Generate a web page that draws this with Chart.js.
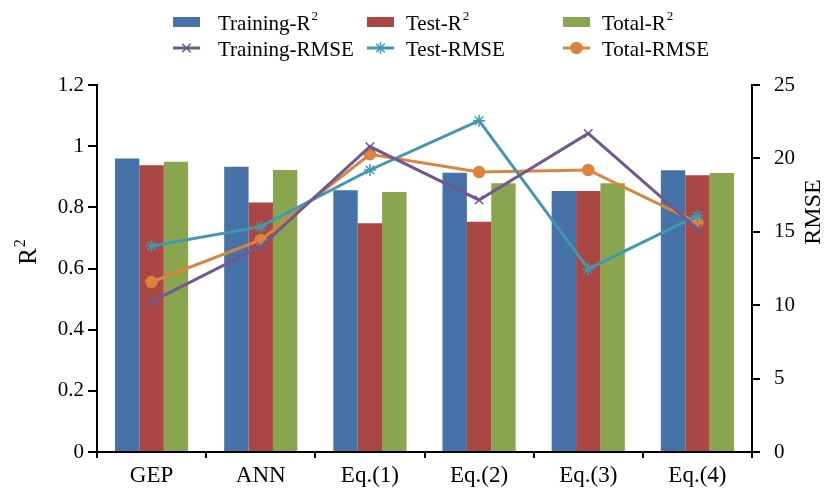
<!DOCTYPE html>
<html>
<head>
<meta charset="utf-8">
<script src="https://cdn.jsdelivr.net/npm/chart.js@4/dist/chart.umd.min.js"></script>
<style>
  html, body { margin: 0; padding: 0; background: #fff; }
  #wrap { width: 832px; height: 492px; }
</style>
</head>
<body>
<div id="wrap"><canvas id="c" width="832" height="492"></canvas></div>
<script>
// Model comparison: R² (bars, left axis) and RMSE (lines, right axis)
const categories = ['GEP', 'ANN', 'Eq.(1)', 'Eq.(2)', 'Eq.(3)', 'Eq.(4)'];

const trainingR2 = [0.960, 0.933, 0.856, 0.913, 0.853, 0.921];
const testR2     = [0.938, 0.816, 0.748, 0.753, 0.853, 0.905];
const totalR2    = [0.949, 0.922, 0.850, 0.879, 0.879, 0.912];

const trainingRMSE = [10.24, 13.99, 20.80, 17.17, 21.70, 15.20];
const testRMSE     = [14.03, 15.35, 19.21, 22.57, 12.47, 16.10];
const totalRMSE    = [11.58, 14.44, 20.28, 19.07, 19.21, 15.62];

const r2Ticks = [0, 0.2, 0.4, 0.6, 0.8, 1, 1.2];
const rmseTicks = [0, 5, 10, 15, 20, 25];
const r2Title = 'R²';
const rmseTitle = 'RMSE';

const SERIF = '"Liberation Serif", "Times New Roman", serif';

function barSet(label, data, color) {
  return {
    type: 'bar', label, data, yAxisID: 'y',
    backgroundColor: color, borderWidth: 0, order: 2,
    barPercentage: 1.0, categoryPercentage: 0.67
  };
}
function lineSet(label, data, color, style, radius) {
  return {
    type: 'line', label, data, yAxisID: 'y1',
    borderColor: color, backgroundColor: color, borderWidth: 3,
    pointStyle: style, pointRadius: radius, pointBorderWidth: 1.5,
    pointBorderColor: color, pointBackgroundColor: color,
    tension: 0, fill: false, order: 1
  };
}

// Draws a label, rendering a trailing "²" as a raised, smaller "2"
function drawLabel(ctx, text, x, y, size, align) {
  ctx.font = size + 'px ' + SERIF;
  const sup = text.endsWith('²');
  const base = sup ? text.slice(0, -1) : text;
  const w = ctx.measureText(base).width;
  ctx.font = Math.round(size * 0.62) + 'px ' + SERIF;
  const ws = sup ? ctx.measureText('2').width + 1 : 0;
  const x0 = align === 'center' ? x - (w + ws) / 2 : x;
  ctx.textAlign = 'left';
  ctx.font = size + 'px ' + SERIF;
  ctx.fillText(base, x0, y);
  if (sup) {
    ctx.font = Math.round(size * 0.62) + 'px ' + SERIF;
    ctx.fillText('2', x0 + w + 1, y - size * 0.33);
  }
}

// Legend as a 3-column, 2-row grid above the plot, and both axis
// titles reading bottom-to-top
const gridLegend = {
  id: 'gridLegend',
  afterDraw(chart) {
    const ctx = chart.ctx;
    const markerX = [173, 367, 563];
    const textX = [218, 406, 602];
    const rowY = [22, 48];
    ctx.save();
    chart.data.datasets.forEach((ds, i) => {
      const col = i % 3, row = Math.floor(i / 3);
      const x = markerX[col], y = rowY[row];
      if (ds.type === 'bar') {
        ctx.fillStyle = ds.backgroundColor;
        ctx.fillRect(x, y - 5, 27, 10);
      } else {
        ctx.strokeStyle = ds.borderColor;
        ctx.lineWidth = 3;
        ctx.beginPath();
        ctx.moveTo(x, y);
        ctx.lineTo(x + 27, y);
        ctx.stroke();
        ctx.fillStyle = ds.borderColor;
        ctx.lineWidth = 1.5;
        Chart.helpers.drawPoint(ctx, {
          pointStyle: ds.pointStyle, radius: ds.pointRadius,
          rotation: 0, borderWidth: 1.5
        }, x + 13.5, y);
      }
      ctx.fillStyle = '#000';
      ctx.textBaseline = 'middle';
      drawLabel(ctx, ds.label, textX[col], y + 2, 21, 'left');
    });
    ctx.restore();

    ctx.save();
    ctx.fillStyle = '#000';
    ctx.textBaseline = 'middle';
    ctx.translate(29, 252);
    ctx.rotate(-Math.PI / 2);
    drawLabel(ctx, r2Title, 0, 0, 25, 'center');
    ctx.restore();

    ctx.save();
    ctx.fillStyle = '#000';
    ctx.textBaseline = 'middle';
    ctx.translate(814, 212);
    ctx.rotate(-Math.PI / 2);
    drawLabel(ctx, rmseTitle, 0, 0, 24, 'center');
    ctx.restore();
  }
};

new Chart(document.getElementById('c'), {
  data: {
    labels: categories,
    datasets: [
      barSet('Training-R²', trainingR2, '#4572A7'),
      barSet('Test-R²', testR2, '#AA4643'),
      barSet('Total-R²', totalR2, '#89A54E'),
      lineSet('Training-RMSE', trainingRMSE, '#71588F', 'crossRot', 6),
      lineSet('Test-RMSE', testRMSE, '#4198AF', 'star', 6),
      lineSet('Total-RMSE', totalRMSE, '#DB843D', 'circle', 5.5)
    ]
  },
  options: {
    responsive: false,
    animation: false,
    layout: { padding: { top: 85, left: 0, right: 0, bottom: 0 } },
    plugins: {
      legend: { display: false },
      tooltip: { enabled: false }
    },
    scales: {
      x: {
        offset: true,
        grid: { offset: true, drawOnChartArea: false, drawTicks: true, tickLength: 6, color: '#000', lineWidth: 2 },
        border: { display: true, color: '#000', width: 2 },
        ticks: { color: '#000', font: { family: SERIF, size: 23 }, padding: 4, maxRotation: 0 },
        afterFit(scale) { scale.height = 40; }
      },
      y: {
        position: 'left',
        min: 0, max: 1.2,
        afterBuildTicks(scale) { scale.ticks = r2Ticks.map(v => ({ value: v })); },
        grid: { drawOnChartArea: false, drawTicks: true, tickLength: 9, color: '#000', lineWidth: 2 },
        border: { display: true, color: '#000', width: 2 },
        ticks: { color: '#000', font: { family: SERIF, size: 21 }, padding: 4,
                 callback: v => String(+v.toFixed(1)) },
        title: { display: false },
        afterFit(scale) { scale.width = 97; }
      },
      y1: {
        position: 'right',
        min: 0, max: 25,
        afterBuildTicks(scale) { scale.ticks = rmseTicks.map(v => ({ value: v })); },
        grid: { drawOnChartArea: false, drawTicks: true, tickLength: 8, color: '#000', lineWidth: 2 },
        border: { display: true, color: '#000', width: 2 },
        ticks: { color: '#000', font: { family: SERIF, size: 21 }, padding: 14 },
        title: { display: false },
        afterFit(scale) { scale.width = 80; }
      }
    }
  },
  plugins: [gridLegend]
});
</script>
</body>
</html>
